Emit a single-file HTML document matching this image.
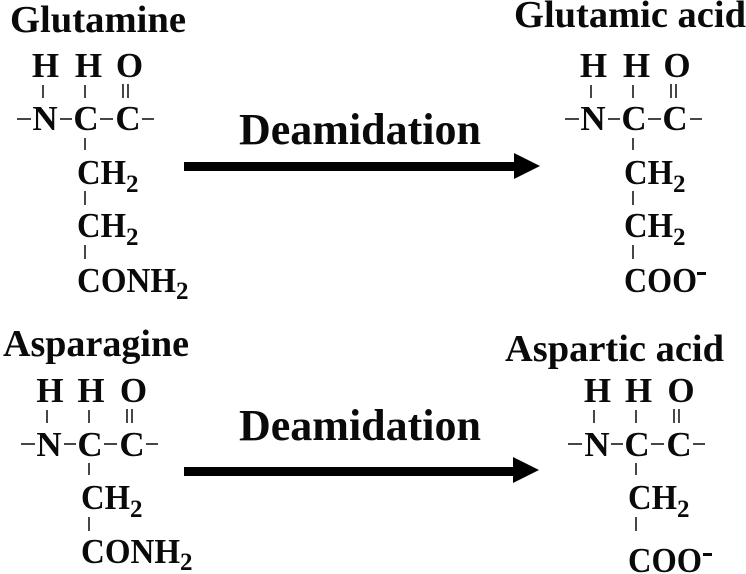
<!DOCTYPE html>
<html>
<head>
<meta charset="utf-8">
<style>
html,body{margin:0;padding:0;background:#fff;width:746px;height:574px;overflow:hidden}
svg{display:block}
text{font-family:"Liberation Serif",serif;font-weight:bold;fill:#0a0a0a}
.t{font-size:38.5px}
.a{font-size:35px;text-anchor:middle}
.f{font-size:35px}
.s{font-size:25px}
.d{font-size:44px}
line{stroke:#333;stroke-width:1.8}
</style>
</head>
<body>
<svg width="746" height="574" viewBox="0 0 746 574" xmlns="http://www.w3.org/2000/svg">
<defs>
<g id="b">
<line x1="43" y1="85" x2="43" y2="98"/>
<line x1="85" y1="85" x2="85" y2="98"/>
<line x1="123" y1="84" x2="123" y2="98"/>
<line x1="128" y1="84" x2="128" y2="98"/>
<line x1="17" y1="119" x2="31" y2="119"/>
<line x1="60" y1="119" x2="72" y2="119"/>
<line x1="100" y1="119" x2="113" y2="119"/>
<line x1="142" y1="119" x2="154" y2="119"/>
<line x1="85" y1="138" x2="85" y2="150"/>
</g>
</defs>

<!-- Glutamine -->
<text class="t" x="10" y="32" textLength="176" lengthAdjust="spacingAndGlyphs">Glutamine</text>
<use href="#b"/>
<text class="a" x="45.5" y="77">H</text><text class="a" x="88.5" y="77">H</text><text class="a" x="129.5" y="77">O</text>
<text class="a" x="45" y="130">N</text><text class="a" x="86" y="130">C</text><text class="a" x="128" y="130">C</text>
<text class="f" x="77" y="184" textLength="49" lengthAdjust="spacingAndGlyphs">CH</text><text class="s" x="126" y="192">2</text>
<line x1="85" y1="191" x2="85" y2="205"/>
<text class="f" x="77" y="237" textLength="49" lengthAdjust="spacingAndGlyphs">CH</text><text class="s" x="126" y="245">2</text>
<line x1="85" y1="245" x2="85" y2="259"/>
<text class="f" x="77" y="292" textLength="99" lengthAdjust="spacingAndGlyphs">CONH</text><text class="s" x="176" y="299">2</text>

<!-- Glutamic acid -->
<text class="t" x="514" y="27" textLength="232" lengthAdjust="spacingAndGlyphs">Glutamic acid</text>
<use href="#b" x="548"/>
<text class="a" x="593.5" y="77">H</text><text class="a" x="636.5" y="77">H</text><text class="a" x="677" y="77">O</text>
<text class="a" x="593" y="130">N</text><text class="a" x="634" y="130">C</text><text class="a" x="675" y="130">C</text>
<text class="f" x="624" y="184" textLength="49" lengthAdjust="spacingAndGlyphs">CH</text><text class="s" x="673" y="192">2</text>
<line x1="633" y1="191" x2="633" y2="205"/>
<text class="f" x="624" y="237" textLength="49" lengthAdjust="spacingAndGlyphs">CH</text><text class="s" x="673" y="245">2</text>
<line x1="633" y1="245" x2="633" y2="259"/>
<text class="f" x="624" y="292" textLength="73" lengthAdjust="spacingAndGlyphs">COO</text>
<rect x="697" y="272" width="9" height="3" fill="#0a0a0a"/>

<!-- Asparagine -->
<text class="t" x="3" y="356" textLength="186" lengthAdjust="spacingAndGlyphs">Asparagine</text>
<use href="#b" x="4" y="325"/>
<text class="a" x="50" y="402">H</text><text class="a" x="91" y="402">H</text><text class="a" x="133.5" y="402">O</text>
<text class="a" x="49" y="456">N</text><text class="a" x="90" y="456">C</text><text class="a" x="132" y="456">C</text>
<text class="f" x="81" y="509" textLength="49" lengthAdjust="spacingAndGlyphs">CH</text><text class="s" x="130" y="517">2</text>
<line x1="89" y1="517" x2="89" y2="531"/>
<text class="f" x="81" y="563" textLength="99" lengthAdjust="spacingAndGlyphs">CONH</text><text class="s" x="180" y="570">2</text>

<!-- Aspartic acid -->
<text class="t" x="505" y="361" textLength="219" lengthAdjust="spacingAndGlyphs">Aspartic acid</text>
<use href="#b" x="551" y="325"/>
<text class="a" x="597.5" y="402">H</text><text class="a" x="638.5" y="402">H</text><text class="a" x="681" y="402">O</text>
<text class="a" x="597" y="456">N</text><text class="a" x="637" y="456">C</text><text class="a" x="679" y="456">C</text>
<text class="f" x="628" y="509" textLength="49" lengthAdjust="spacingAndGlyphs">CH</text><text class="s" x="677" y="517">2</text>
<line x1="636" y1="517" x2="636" y2="531"/>
<text class="f" x="628" y="572" textLength="74" lengthAdjust="spacingAndGlyphs">COO</text>
<rect x="703" y="553" width="9" height="3" fill="#0a0a0a"/>

<!-- Deamidation + arrows -->
<text class="d" x="239" y="144" textLength="242" lengthAdjust="spacingAndGlyphs">Deamidation</text>
<text class="d" x="239" y="440" textLength="242" lengthAdjust="spacingAndGlyphs">Deamidation</text>
<polygon points="184,162 514,162 514,153 540,166 514,179 514,171 184,171" fill="#000"/>
<polygon points="184,467 513,467 513,457 539,470 513,483 513,476 184,476" fill="#000"/>
</svg>
</body>
</html>
